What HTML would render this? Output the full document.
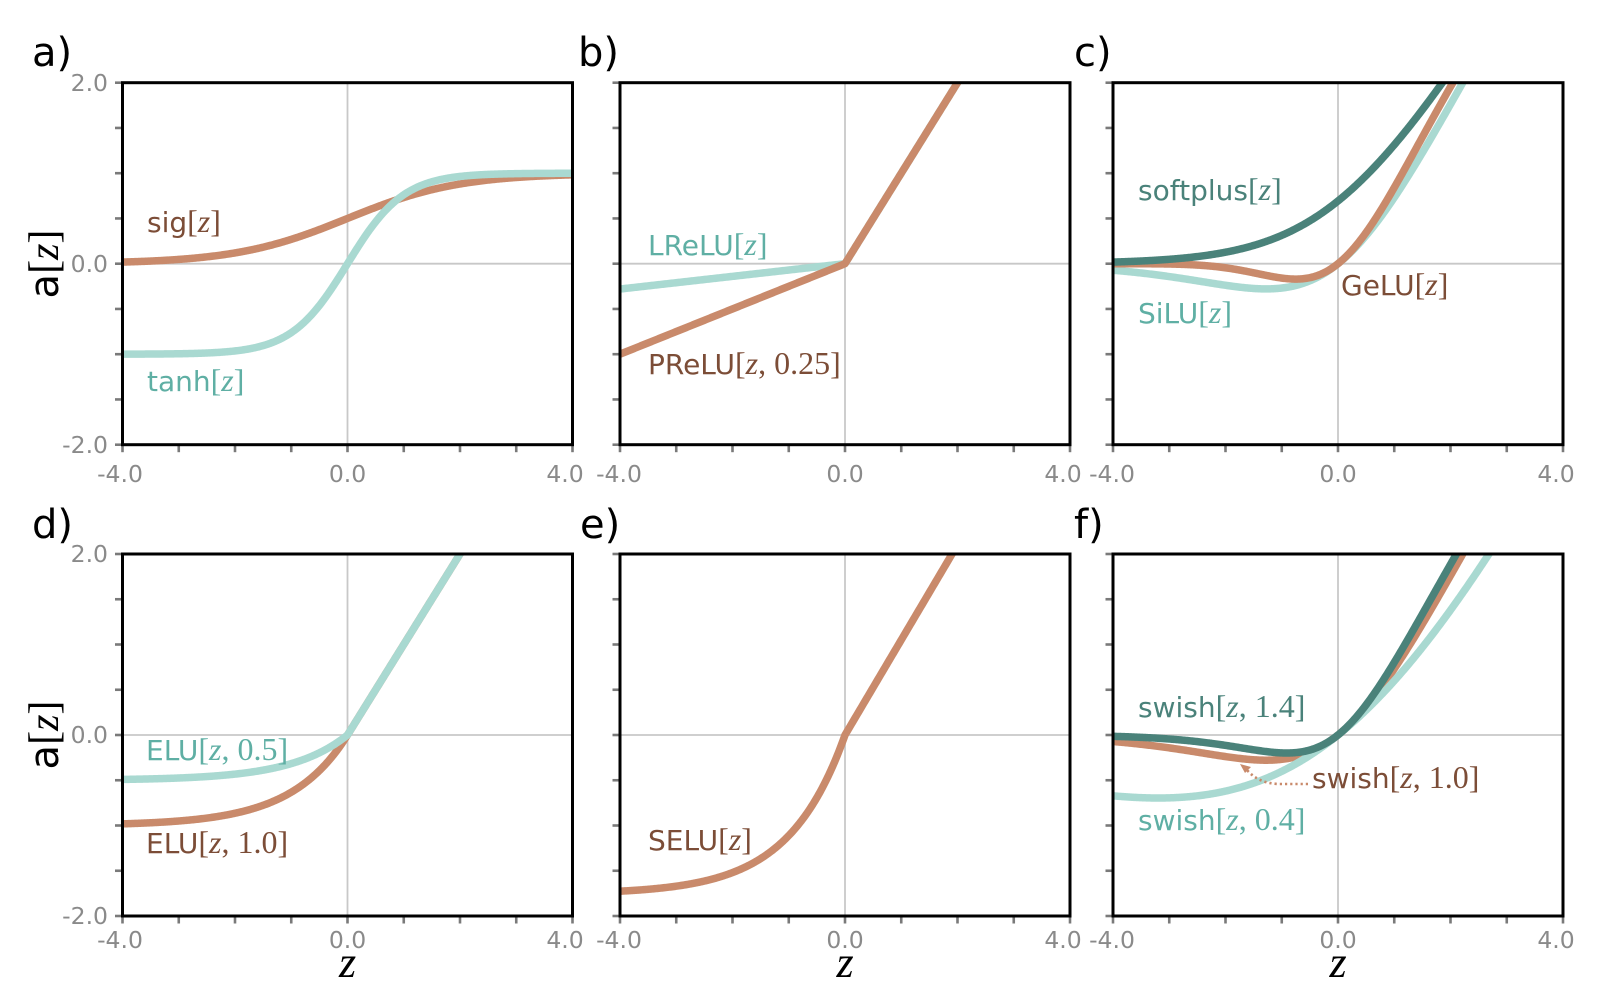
<!DOCTYPE html>
<html>
<head>
<meta charset="utf-8">
<style>
  html,body{margin:0;padding:0;background:#fff;}
  svg{display:block;}
  .lbl{font-family:"DejaVu Sans","Liberation Sans",sans-serif;font-size:28px;}
  .m{font-family:"Liberation Serif",serif;font-size:32px;font-style:normal;}
  .mi{font-family:"Liberation Serif",serif;font-size:32px;font-style:italic;}
  .tk{font-family:"DejaVu Sans","Liberation Sans",sans-serif;font-size:23.5px;fill:#8a8a8a;}
  .pl{font-family:"DejaVu Sans","Liberation Sans",sans-serif;font-size:40px;fill:#000;}
  .bt{fill:#7C4D37;}
  .lt{fill:#5FAFA4;}
  .dt{fill:#4A827A;}
</style>
</head>
<body>
<svg id="fig" width="1612" height="1000" viewBox="0 0 1612 1000" xmlns="http://www.w3.org/2000/svg">
  <rect x="0" y="0" width="1612" height="1000" fill="#fff"/>
  <defs id="defs"></defs>
  <g id="plots"></g>

  <!-- panel letters -->
  <text class="pl" x="32" y="66">a)</text>
  <text class="pl" x="578" y="66">b)</text>
  <text class="pl" x="1074" y="66">c)</text>
  <text class="pl" x="32" y="538">d)</text>
  <text class="pl" x="580" y="538">e)</text>
  <text class="pl" x="1074" y="538">f)</text>

  <!-- y axis labels -->
  <text transform="translate(58,264) rotate(-90)" text-anchor="middle" style="font-family:'DejaVu Sans',sans-serif;font-size:40px;fill:#000">a<tspan style="font-family:'Liberation Serif',serif;font-size:42px">[</tspan><tspan style="font-family:'Liberation Serif',serif;font-size:42px;font-style:italic">z</tspan><tspan style="font-family:'Liberation Serif',serif;font-size:42px">]</tspan></text>
  <text transform="translate(58,735) rotate(-90)" text-anchor="middle" style="font-family:'DejaVu Sans',sans-serif;font-size:40px;fill:#000">a<tspan style="font-family:'Liberation Serif',serif;font-size:42px">[</tspan><tspan style="font-family:'Liberation Serif',serif;font-size:42px;font-style:italic">z</tspan><tspan style="font-family:'Liberation Serif',serif;font-size:42px">]</tspan></text>

  <!-- x axis labels -->
  <text x="347.5" y="977" text-anchor="middle" style="font-family:'Liberation Serif',serif;font-style:italic;font-size:44px;fill:#000">z</text>
  <text x="845" y="977" text-anchor="middle" style="font-family:'Liberation Serif',serif;font-style:italic;font-size:44px;fill:#000">z</text>
  <text x="1338" y="977" text-anchor="middle" style="font-family:'Liberation Serif',serif;font-style:italic;font-size:44px;fill:#000">z</text>

  <!-- y tick labels -->
  <text class="tk" x="108" y="91" text-anchor="end">2.0</text>
  <text class="tk" x="108" y="272" text-anchor="end">0.0</text>
  <text class="tk" x="108" y="453" text-anchor="end">-2.0</text>
  <text class="tk" x="108" y="562" text-anchor="end">2.0</text>
  <text class="tk" x="108" y="743" text-anchor="end">0.0</text>
  <text class="tk" x="108" y="924" text-anchor="end">-2.0</text>

  <!-- x tick labels row 1 -->
  <text class="tk" x="120" y="482" text-anchor="middle">-4.0</text>
  <text class="tk" x="347.5" y="482" text-anchor="middle">0.0</text>
  <text class="tk" x="565" y="482" text-anchor="middle">4.0</text>
  <text class="tk" x="619" y="482" text-anchor="middle">-4.0</text>
  <text class="tk" x="845" y="482" text-anchor="middle">0.0</text>
  <text class="tk" x="1063" y="482" text-anchor="middle">4.0</text>
  <text class="tk" x="1112" y="482" text-anchor="middle">-4.0</text>
  <text class="tk" x="1338" y="482" text-anchor="middle">0.0</text>
  <text class="tk" x="1556" y="482" text-anchor="middle">4.0</text>
  <!-- x tick labels row 2 -->
  <text class="tk" x="120" y="948" text-anchor="middle">-4.0</text>
  <text class="tk" x="347.5" y="948" text-anchor="middle">0.0</text>
  <text class="tk" x="565" y="948" text-anchor="middle">4.0</text>
  <text class="tk" x="619" y="948" text-anchor="middle">-4.0</text>
  <text class="tk" x="845" y="948" text-anchor="middle">0.0</text>
  <text class="tk" x="1063" y="948" text-anchor="middle">4.0</text>
  <text class="tk" x="1112" y="948" text-anchor="middle">-4.0</text>
  <text class="tk" x="1338" y="948" text-anchor="middle">0.0</text>
  <text class="tk" x="1556" y="948" text-anchor="middle">4.0</text>

  <!-- curve labels -->
  <text class="lbl bt" x="147" y="232">sig<tspan class="m">[</tspan><tspan class="mi">z</tspan><tspan class="m">]</tspan></text>
  <text class="lbl lt" x="147" y="391">tanh<tspan class="m">[</tspan><tspan class="mi">z</tspan><tspan class="m">]</tspan></text>

  <text class="lbl lt" x="648" y="255">LReLU<tspan class="m">[</tspan><tspan class="mi">z</tspan><tspan class="m">]</tspan></text>
  <text class="lbl bt" x="648" y="374">PReLU<tspan class="m">[</tspan><tspan class="mi">z</tspan><tspan class="m">, 0.25]</tspan></text>

  <text class="lbl dt" x="1138" y="200">softplus<tspan class="m">[</tspan><tspan class="mi">z</tspan><tspan class="m">]</tspan></text>
  <text class="lbl lt" x="1138" y="323">SiLU<tspan class="m">[</tspan><tspan class="mi">z</tspan><tspan class="m">]</tspan></text>
  <text class="lbl bt" x="1341" y="295">GeLU<tspan class="m">[</tspan><tspan class="mi">z</tspan><tspan class="m">]</tspan></text>

  <text class="lbl lt" x="146" y="760">ELU<tspan class="m">[</tspan><tspan class="mi">z</tspan><tspan class="m">, 0.5]</tspan></text>
  <text class="lbl bt" x="146" y="853">ELU<tspan class="m">[</tspan><tspan class="mi">z</tspan><tspan class="m">, 1.0]</tspan></text>

  <text class="lbl bt" x="648" y="850">SELU<tspan class="m">[</tspan><tspan class="mi">z</tspan><tspan class="m">]</tspan></text>

  <text class="lbl dt" x="1138" y="717">swish<tspan class="m">[</tspan><tspan class="mi">z</tspan><tspan class="m">, 1.4]</tspan></text>
  <text class="lbl bt" x="1312" y="788">swish<tspan class="m">[</tspan><tspan class="mi">z</tspan><tspan class="m">, 1.0]</tspan></text>
  <text class="lbl lt" x="1138" y="830">swish<tspan class="m">[</tspan><tspan class="mi">z</tspan><tspan class="m">, 0.4]</tspan></text>

  <!-- dotted arrow in panel f -->
  <path d="M1308,784 L1278,784 Q1258,783 1247,770" fill="none" stroke="#C98A6B" stroke-width="2.6" stroke-dasharray="2.2,3"/>
  <polygon points="1240,764 1251,767 1245,773" fill="#C98A6B"/>
</svg>

<script>
(function(){
  var NS="http://www.w3.org/2000/svg";
  var cols=[122.5,620,1113], rows=[82.7,554], W=450, H=362;
  var BR="#C98A6B", LT="#A9D9D1", DK="#4A827A";
  var defs=document.getElementById('defs');
  var plots=document.getElementById('plots');
  function el(n,a,p){var e=document.createElementNS(NS,n);for(var k in a)e.setAttribute(k,a[k]);(p||plots).appendChild(e);return e;}
  function sig(z){return 1/(1+Math.exp(-z));}
  function tanh(z){var a=Math.exp(z),b=Math.exp(-z);return (a-b)/(a+b);}
  function gelu(z){return 0.5*z*(1+tanh(Math.sqrt(2/Math.PI)*(z+0.044715*z*z*z)));}
  var F={
    sig:sig, tanh:tanh,
    lrelu:function(z){return z>0?z:0.07*z;},
    prelu:function(z){return z>0?z:0.25*z;},
    softplus:function(z){return Math.log(1+Math.exp(z));},
    gelu:gelu,
    silu:function(z){return z*sig(z);},
    elu05:function(z){return z>0?z:0.5*(Math.exp(z)-1);},
    elu10:function(z){return z>0?z:(Math.exp(z)-1);},
    selu:function(z){var l=1.0507,a=1.67326;return z>0?l*z:l*a*(Math.exp(z)-1);},
    sw04:function(z){return z*sig(0.4*z);},
    sw10:function(z){return z*sig(z);},
    sw14:function(z){return z*sig(1.4*z);}
  };
  var panels=[
    {c:0,r:0,curves:[["sig",BR],["tanh",LT]]},
    {c:1,r:0,curves:[["lrelu",LT],["prelu",BR]]},
    {c:2,r:0,curves:[["silu",LT],["gelu",BR],["softplus",DK]]},
    {c:0,r:1,curves:[["elu10",BR],["elu05",LT]]},
    {c:1,r:1,curves:[["selu",BR]]},
    {c:2,r:1,curves:[["sw10",BR],["sw04",LT],["sw14",DK]]}
  ];
  panels.forEach(function(p,i){
    var x0=cols[p.c], y0=rows[p.r];
    function X(z){return x0+(z+4)*W/8;}
    function Y(a){return y0+(2-a)*H/4;}
    var cp=el('clipPath',{id:'cp'+i},defs);
    el('rect',{x:x0,y:y0,width:W,height:H},cp);
    var g=el('g',{'clip-path':'url(#cp'+i+')'});
    el('line',{x1:X(0),y1:y0,x2:X(0),y2:y0+H,stroke:'#c8c8c8','stroke-width':1.8},g);
    el('line',{x1:x0,y1:Y(0),x2:x0+W,y2:Y(0),stroke:'#c8c8c8','stroke-width':1.8},g);
    p.curves.forEach(function(cv){
      var f=F[cv[0]], d='';
      for(var k=0;k<=480;k++){
        var z=-4.05+8.1*k/480, a=f(z);
        if(a>3)a=3; if(a<-3)a=-3;
        d+=(k?'L':'M')+X(z).toFixed(2)+','+Y(a).toFixed(2);
      }
      el('path',{d:d,fill:'none',stroke:cv[1],'stroke-width':7.5,'stroke-linejoin':'round'},g);
    });
    for(var t=-2;t<=2.001;t+=0.5){
      el('line',{x1:x0-7.5,y1:Y(t),x2:x0,y2:Y(t),stroke:'#7a7a7a','stroke-width':2.6});
    }
    for(var s=-4;s<=4;s++){
      el('line',{x1:X(s),y1:y0+H,x2:X(s),y2:y0+H+7.5,stroke:'#7a7a7a','stroke-width':2.6});
    }
    el('rect',{x:x0,y:y0,width:W,height:H,fill:'none',stroke:'#000','stroke-width':3});
  });
})();
</script>
</body>
</html>
